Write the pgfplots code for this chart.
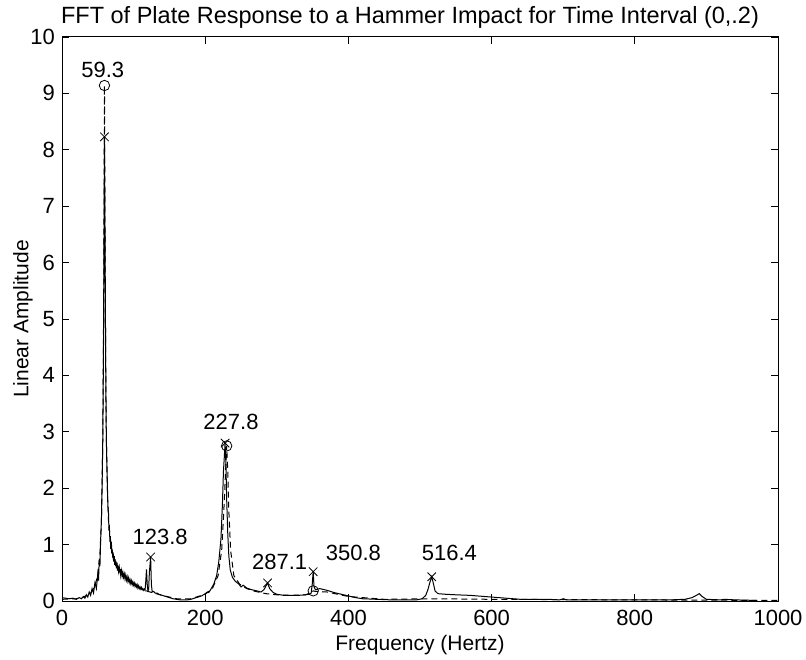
\documentclass[border=0pt]{standalone}
\usepackage{fontspec}
\setmainfont{Liberation Sans}
\usepackage{pgfplots}
\pgfplotsset{compat=1.18}
\begin{document}
\begin{tikzpicture}
\path[use as bounding box] (-31pt,-29pt) rectangle (372pt,300.5pt);
\begin{axis}[
  scale only axis,
  width=358pt, height=282pt,
  xmin=0, xmax=1000, ymin=0, ymax=10,
  xtick={0,200,...,1000}, ytick={0,1,...,10},
  tick align=inside, major tick length=3.5pt,
  xtick pos=both, ytick pos=both,
  /pgf/number format/assume math mode=true,
  scaled x ticks=false,
  ticklabel style={font=\fontsize{11}{13}\selectfont},
  xticklabel style={/pgf/number format/1000 sep={}, yshift=-1pt},
  axis line style={line width=0.5pt},
  tick style={line width=0.4pt, black},
  title={FFT of Plate Response to a Hammer Impact for Time Interval (0,.2)},
  title style={font=\fontsize{11.75}{14}\selectfont, yshift=-5pt, xshift=-5pt},
  xlabel={Frequency (Hertz)},
  ylabel={Linear Amplitude},
  label style={font=\fontsize{10.5}{12}\selectfont},
  xlabel style={yshift=2pt},
  ylabel style={yshift=-8pt},
  clip=false,
]
% measured FFT (solid)
\addplot[black, line width=0.5pt, mark=none] coordinates {
(0,0.06) (5,0.05) (10,0.04) (15,0.05) (20,0.03) (24,0.06) (27,0.04) (30,0.08)
(32,0.05) (34,0.11) (36,0.07) (38,0.16) (40,0.10) (42,0.22) (44,0.14) (46,0.32)
(48,0.22) (50,0.48) (51,0.36) (52,0.72) (53,0.62) (54,1.1) (55,1.4) (56,2.0)
(57,2.9) (58,4.6) (59.3,8.23) (60.3,6.0) (61,4.2) (62,2.8) (63,2.3) (64,1.7)
(65,1.55) (65.5,1.25) (66,1.35) (67,1.05) (67.5,1.15) (68,0.92) (69,1.05) (69.5,0.84)
(70,0.92) (71,0.76) (71.5,0.86) (72,0.70) (73,0.80) (73.5,0.64) (74,0.74) (75,0.62)
(75.5,0.70) (76,0.58) (77,0.68) (77.5,0.54) (78,0.64) (79,0.52) (80,0.60) (81,0.49)
(81.5,0.57) (82,0.46) (83,0.54) (84,0.44) (85,0.51) (86,0.42) (87,0.48) (88,0.39)
(89,0.46) (90,0.37) (91,0.43) (92,0.35) (93,0.41) (94,0.33) (95,0.38) (96,0.31)
(97,0.36) (98,0.29) (99,0.34) (100,0.28) (101,0.32) (102,0.26) (103,0.30) (104,0.25)
(105,0.29) (106,0.23) (107,0.27) (108,0.22) (109,0.25) (110,0.21) (111,0.24) (112,0.20)
(113,0.22) (114,0.19) (115,0.21) (116,0.19) (117,0.35)
(118,0.56) (119,0.30) (120,0.18) (121,0.20) (122,0.5) (123.8,0.78) (124.8,0.30)
(126,0.16) (128,0.17) (130,0.14) (133,0.14) (135,0.12) (140,0.10) (145,0.08) (150,0.06) (155,0.04)
(160,0.03) (165,0.02) (170,0.02) (175,0.02) (180,0.03) (185,0.05) (190,0.07)
(195,0.09) (200,0.13) (203,0.16) (205,0.15) (208,0.21) (212,0.30) (216,0.45)
(219,0.70) (222,1.1) (224,1.7) (225.5,2.3) (227.8,2.8) (229,2.4) (230,1.8)
(231.5,1.2) (233,0.8) (235,0.55) (238,0.42) (242,0.35) (247,0.30) (250,0.25)
(253,0.28) (258,0.23) (265,0.20) (272,0.18) (278,0.16) (282,0.20) (287.1,0.32)
(290,0.22) (295,0.15) (300,0.12) (310,0.10) (320,0.10) (330,0.10) (340,0.11)
(345,0.12) (348,0.14) (349.5,0.30) (350.8,0.52) (352,0.25) (354,0.20) (360,0.22)
(370,0.19) (380,0.15) (390,0.12) (400,0.09) (410,0.06) (420,0.04) (440,0.03)
(460,0.02) (480,0.02) (495,0.02) (503,0.04) (508,0.10) (511,0.20) (514,0.34)
(516.4,0.43) (518.5,0.32) (521,0.18) (525,0.13) (535,0.12) (550,0.11) (570,0.10)
(590,0.08) (600,0.07) (620,0.05) (640,0.03) (660,0.03) (680,0.03) (695,0.02)
(700,0.04) (705,0.02) (740,0.02) (780,0.02) (820,0.02) (850,0.02) (870,0.03)
(880,0.06) (886,0.10) (890,0.13) (894,0.08) (900,0.03) (920,0.02) (925,0.03)
(940,0.02) (970,0.01)
};
% fitted model (dashed)
\addplot[black, line width=0.5pt, dash pattern=on 3pt off 2pt, mark=none] coordinates {
(0,0.03) (20,0.04) (30,0.07) (40,0.14) (45,0.24) (50,0.45) (53,0.85) (55,1.4)
(57,2.9) (58.3,5.5) (59.3,9.14) (60.3,5.8) (61.5,3.3) (63,2.1) (65,1.4)
(70,0.84) (80,0.54) (90,0.40) (100,0.30) (110,0.22) (120,0.17) (140,0.10) (160,0.04) (180,0.04)
(200,0.12) (210,0.22) (218,0.45) (223,0.9) (226,1.6) (228.5,2.3) (230,2.75)
(231.5,2.3) (233,1.6) (235.5,0.9) (240,0.45) (248,0.30) (258,0.22) (270,0.17)
(285,0.13) (300,0.11) (320,0.10) (340,0.11) (348,0.15) (350.8,0.18) (354,0.17)
(370,0.16) (400,0.08) (450,0.03) (516,0.04) (600,0.03) (800,0.02) (1000,0.01)
};
% peak markers (x) on the measured spectrum
\addplot[black, only marks, mark=x, mark size=3pt, line width=0.4pt] coordinates {
(59.3,8.23) (123.8,0.78) (227.8,2.80) (287.1,0.32) (350.8,0.52) (516.4,0.43)
};
% peak markers (o) on the fitted model
\addplot[black, only marks, mark=o, mark size=2.6pt, line width=0.4pt] coordinates {
(59.3,9.14) (230,2.75) (350.8,0.18)
};
\begin{scope}[every node/.style={font=\fontsize{11}{13}\selectfont}]
\node at (axis cs:57,9.42) {59.3};
\node at (axis cs:137,1.13) {123.8};
\node at (axis cs:236,3.18) {227.8};
\node at (axis cs:304,0.70) {287.1};
\node at (axis cs:407,0.85) {350.8};
\node at (axis cs:541,0.85) {516.4};
\end{scope}
\end{axis}
\end{tikzpicture}
\end{document}
